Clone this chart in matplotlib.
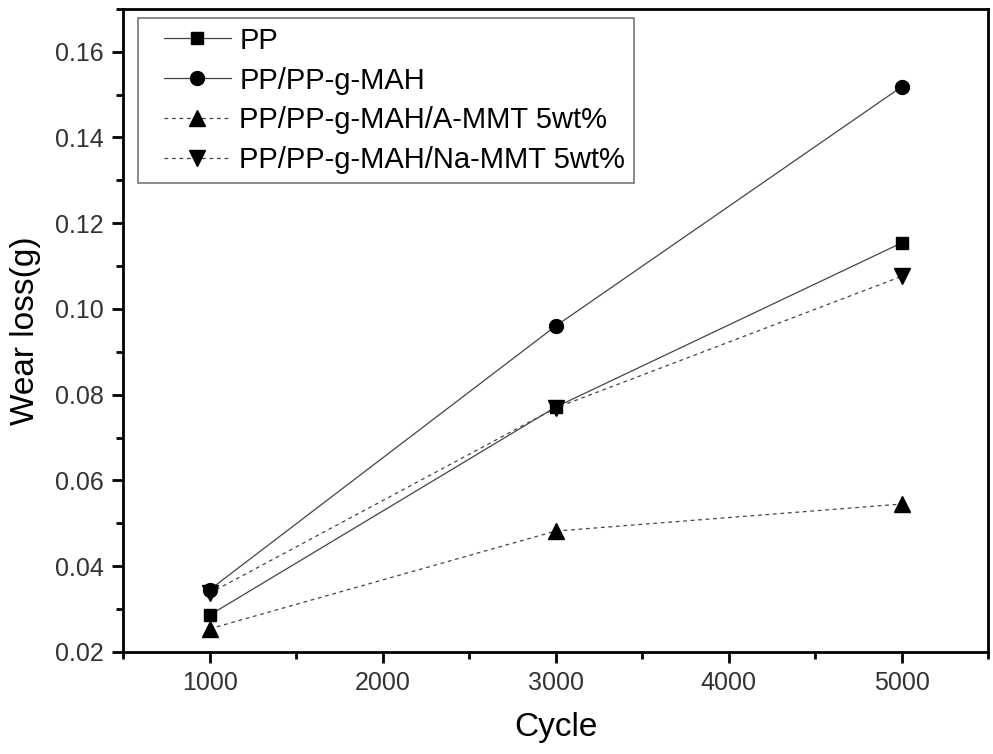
import numpy as np
import matplotlib
matplotlib.use('Agg')
import matplotlib.pyplot as plt
from matplotlib.ticker import MultipleLocator
from matplotlib.legend_handler import HandlerLine2D

plt.rcParams['font.family'] = ['Liberation Sans', 'DejaVu Sans']

cycles = [1000, 3000, 5000]

pp = [0.0286, 0.0771, 0.1154]
pp_mah = [0.0345, 0.0960, 0.1518]
pp_mah_ammt = [0.0254, 0.0482, 0.0545]
pp_mah_nammt = [0.0337, 0.0769, 0.1076]

labels = ['PP', 'PP/PP-g-MAH', 'PP/PP-g-MAH/A-MMT 5wt%', 'PP/PP-g-MAH/Na-MMT 5wt%']

fig = plt.figure(figsize=(9.93, 7.54), dpi=100)
ax = fig.add_axes([0.124, 0.1353, 0.871, 0.853])

lc = '#444444'
ax.plot(cycles, pp, color=lc, lw=0.9, marker='s', ms=9, mfc='k', mec='k', label=labels[0])
ax.plot(cycles, pp_mah, color=lc, lw=0.9, marker='o', ms=10, mfc='k', mec='k', label=labels[1])
ax.plot(cycles, pp_mah_ammt, color=lc, lw=0.9, ls=(0, (3, 3)), marker='^', ms=12, mfc='k', mec='k', label=labels[2])
ax.plot(cycles, pp_mah_nammt, color=lc, lw=0.9, ls=(0, (3, 3)), marker='v', ms=12, mfc='k', mec='k', label=labels[3])

ax.set_xlim(500, 5500)
ax.set_ylim(0.02, 0.17)
ax.xaxis.set_major_locator(MultipleLocator(1000))
ax.xaxis.set_minor_locator(MultipleLocator(500))
ax.yaxis.set_major_locator(MultipleLocator(0.02))
ax.yaxis.set_minor_locator(MultipleLocator(0.01))
ax.set_xticks([1000, 2000, 3000, 4000, 5000])

for s in ax.spines.values():
    s.set_linewidth(2)
ax.tick_params(which='major', direction='out', length=8, width=2, labelsize=18,
               labelcolor='#333333', pad=6)
ax.tick_params(which='minor', direction='out', length=5, width=2)

ax.set_xlabel('Cycle', fontsize=24, labelpad=12)
ax.set_ylabel('Wear loss(g)', fontsize=24, labelpad=10)

leg = ax.legend(loc='upper left', bbox_to_anchor=(0.017, 0.986), borderaxespad=0,
                fontsize=21, frameon=True, fancybox=False, handlelength=2.9,
                handletextpad=0.28, labelspacing=0.41, borderpad=0.3,
                handler_map={plt.Line2D: HandlerLine2D(xpad=0.58)})
leg.get_frame().set_edgecolor('#555555')
leg.get_frame().set_linewidth(1.2)

fig.savefig('out.png', dpi=100)
